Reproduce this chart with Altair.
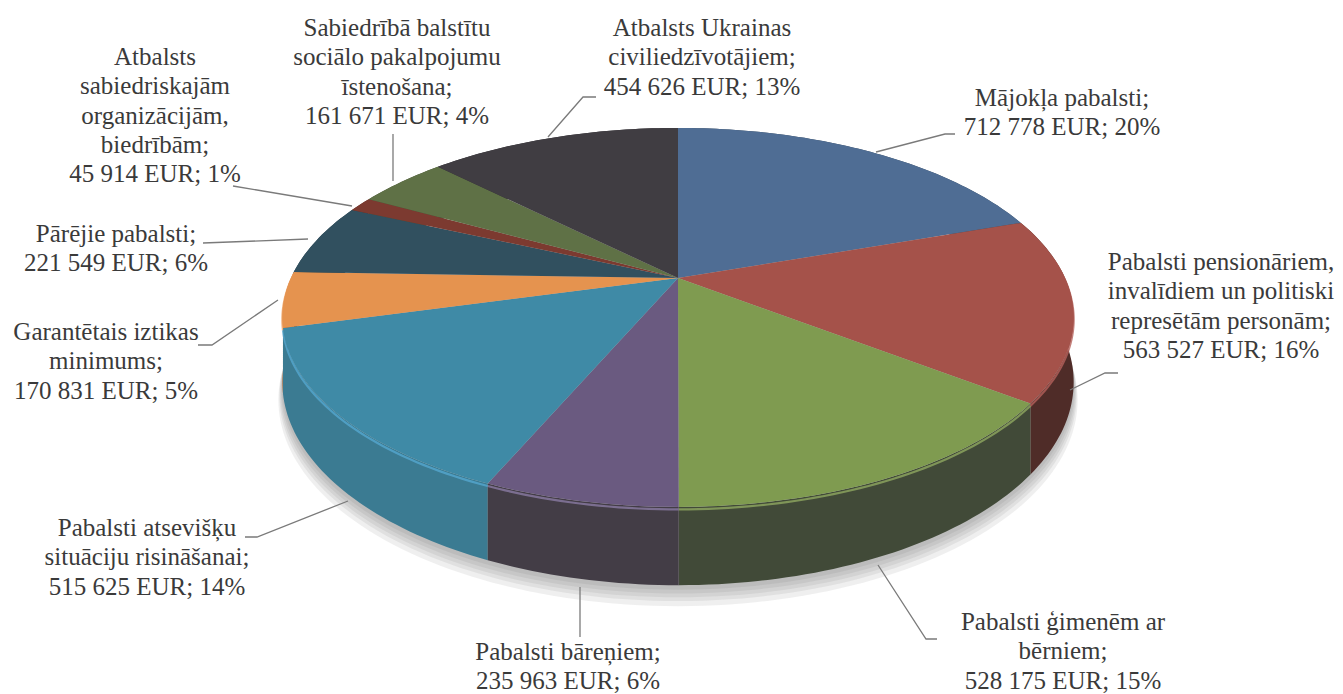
import math
import altair as alt

# ---- values
categories = [
    "Mājokļa pabalsti", "Pabalsti pensionāriem", "Pabalsti ģimenēm ar bērniem",
    "Pabalsti bāreņiem", "Pabalsti atsevišķu situāciju risināšanai",
    "Garantētais iztikas minimums", "Pārējie pabalsti",
    "Atbalsts sabiedriskajām organizācijām", "Sociālo pakalpojumu īstenošana",
    "Atbalsts Ukrainas civiliedzīvotājiem",
]
values = [712778, 563527, 528175, 235963, 515625, 170831, 221549, 45914, 161671, 454626]
top_colors = ["#4f6d94", "#a5524a", "#7f9b50", "#6a5a80", "#3f8aa6",
              "#e5934f", "#31505f", "#7c3a30", "#5f7146", "#403d42"]
wall_colors = ["#3a4a5a", "#4f2c28", "#414a38", "#433d46", "#3b7b92",
               "#a0683a", "#2a3f4a", "#5a2c26", "#454f36", "#333135"]
rim_colors = ["#5f7fa8", "#b4605a", "#8fa860", "#8a7aa2", "#55a8d0",
              "#f0a060", "#3f6070", "#8c4a40", "#6f8156", "#504d52"]

label_lines = [
    ["Mājokļa pabalsti;", "712 778 EUR; 20%"],
    ["Pabalsti pensionāriem,", "invalīdiem un politiski", "represētām personām;", "563 527 EUR; 16%"],
    ["Pabalsti ģimenēm ar", "bērniem;", "528 175 EUR; 15%"],
    ["Pabalsti bāreņiem;", "235 963 EUR; 6%"],
    ["Pabalsti atsevišķu", "situāciju risināšanai;", "515 625 EUR; 14%"],
    ["Garantētais iztikas", "minimums;", "170 831 EUR; 5%"],
    ["Pārējie pabalsti;", "221 549 EUR; 6%"],
    ["Atbalsts", "sabiedriskajām", "organizācijām,", "biedrībām;", "45 914 EUR; 1%"],
    ["Sabiedrībā balstītu", "sociālo pakalpojumu", "īstenošana;", "161 671 EUR; 4%"],
    ["Atbalsts Ukrainas", "civiliedzīvotājiem;", "454 626 EUR; 13%"],
]

# ---- layout (page pixels), kept apart from the values
MARGIN = 8
VX, VY = 678, 278          # pie vertex on the page
A, B, K = 387.0, 181.3, 0.208   # perspective of the tilted disc
DEPTH = 62.0               # wall height
label_pos = [(1062, 98), (1221, 262), (1063, 622), (568, 652), (147, 528),
             (106, 332), (116, 234), (155, 57), (397, 28), (702, 28)]
LINE_H = 29.3
leaders = [
    [(955, 134), (945, 134), (876, 152)],
    [(1118, 373), (1105, 373), (1070, 390)],
    [(937, 639), (926, 639), (878, 565)],
    [(580, 637), (580, 587)],
    [(245, 537), (257, 537), (348, 501)],
    [(198, 345), (212, 345), (278, 300)],
    [(203, 243), (308, 239)],
    [(233, 186), (352, 206)],
    [(393, 134), (393, 181)],
    [(596, 97), (583, 97), (548, 137)],
]


def rim(theta, drop=0.0):
    u, v = math.sin(theta), -math.cos(theta)
    w = 1 - K * v
    return [A * u / w, (B * v + drop) / w]


def poly(ring, **props):
    ring = ring + [ring[0]]
    return {"type": "Feature", "properties": props,
            "geometry": {"type": "Polygon", "coordinates": [ring]}}


def geo(features):
    return alt.InlineData(values={"type": "FeatureCollection", "features": features},
                          format=alt.DataFormat(type="json", property="features"))


total = sum(values)
edges = [0.0]
for val in values:
    edges.append(edges[-1] + val / total * 2 * math.pi)

tops, walls, rims = [], [], []
for i, name in enumerate(categories):
    a0, a1 = edges[i], edges[i + 1]
    n = max(4, int((a1 - a0) / 0.02))
    arc = [a0 + (a1 - a0) * j / n for j in range(n + 1)]
    tops.append(poly([[0.0, 0.0]] + [rim(t) for t in arc], color=top_colors[i], name=name))
    wall = poly([rim(t) for t in arc] + [rim(t, DEPTH) for t in reversed(arc)],
                color=wall_colors[i], name=name)
    walls.append((sum(-math.cos(t) for t in arc) / len(arc), wall))
    front = [t for t in arc if -math.cos(t) > -0.12]
    if len(front) > 1:
        rims.append({"type": "Feature", "properties": {"color": rim_colors[i], "name": name},
                     "geometry": {"type": "LineString", "coordinates": [rim(t, 2) for t in front]}})
walls = [w for _, w in sorted(walls, key=lambda item: item[0])]

circle = [2 * math.pi * j / 240 for j in range(240)]
shadow_layers = []
for spread in (15, 11, 8, 5, 2):
    ring = [[p[0] * (1 + spread / 1500), p[1] + 2] for p in (rim(t, DEPTH + spread) for t in circle)]
    shadow_layers.append(alt.Chart(geo([poly(ring, color="#000000", name="shadow")]))
                         .mark_geoshape(fill="#666666", fillOpacity=0.1, strokeWidth=0))

proj = alt.Projection(type="identity", scale=1, translate=[VX - MARGIN, VY - MARGIN])
color = alt.Color("properties.color:N", scale=None, legend=None)

wall_layer = alt.Chart(geo(walls)).mark_geoshape(strokeWidth=0.4, strokeOpacity=0.3).encode(color=color)
rim_layer = alt.Chart(geo(rims)).mark_geoshape(filled=False, strokeWidth=2.2, strokeOpacity=0.8).encode(
    stroke=alt.Stroke("properties.color:N", scale=None, legend=None))
top_layer = alt.Chart(geo(tops)).mark_geoshape(strokeWidth=0.4, strokeOpacity=0.5).encode(color=color)

line_rows = []
for i, pts in enumerate(leaders):
    for j, (x, y) in enumerate(pts):
        line_rows.append({"id": i, "o": j, "x": x - MARGIN, "y": y - MARGIN})
leader_layer = alt.Chart(alt.Data(values=line_rows)).mark_line(color="#7a7a7a", strokeWidth=1.3).encode(
    x=alt.X("x:Q", scale=None, axis=None), y=alt.Y("y:Q", scale=None, axis=None),
    detail="id:N", order="o:Q")

text_rows = []
for lines, (x, y) in zip(label_lines, label_pos):
    for j, line in enumerate(lines):
        text_rows.append({"t": line, "x": x - MARGIN, "y": y + j * LINE_H - MARGIN})
text_layer = alt.Chart(alt.Data(values=text_rows)).mark_text(
    font="Liberation Serif", fontSize=25, color="#3a3a3a", align="center", baseline="middle"
).encode(x=alt.X("x:Q", scale=None, axis=None), y=alt.Y("y:Q", scale=None, axis=None), text="t:N")

chart = alt.layer(*shadow_layers, wall_layer, rim_layer, top_layer, leader_layer, text_layer).properties(
    width=1327, height=686, projection=proj, padding=0, background="#ffffff",
    autosize=alt.AutoSizeParams(type="none"),
).configure_view(stroke=None)

chart.save("out.html", embed_options={"renderer": "svg", "actions": False})
